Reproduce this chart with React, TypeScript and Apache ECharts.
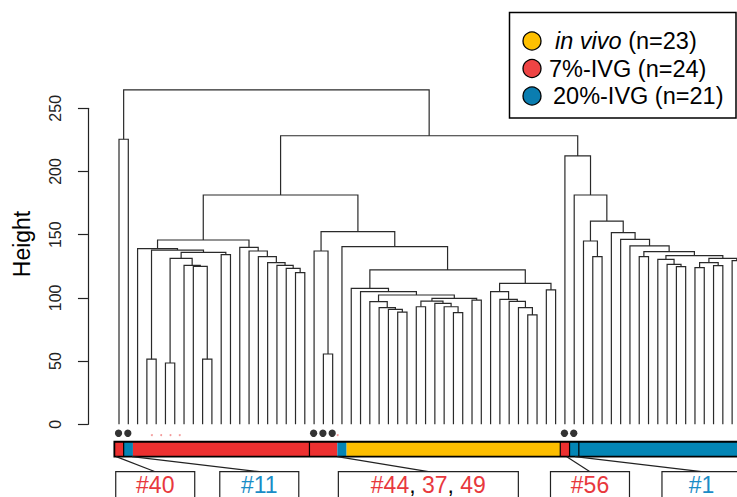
import React, { useEffect, useRef } from "react";
import * as echarts from "echarts";

// ---------- DATA ----------
// Leaf groups in dendrogram order, run-length encoded: [group, count]
const groupRuns: [string, number][] = [
  ["ivg7", 1], ["ivg20", 1], ["ivg7", 22], ["ivg20", 1],
  ["vivo", 23], ["ivg7", 1], ["ivg20", 19],
];
// Merges: [id, childA, childB, height]; number = leaf position, string = earlier merge
const merges: [string, string | number, string | number, number][] = [
  ["p34", 3, 4, 51.5], ["p56", 5, 6, 48.5], ["p910", 9, 10, 51.5],
  ["F", 8, "p910", 125.0], ["E", 7, "F", 125.8], ["D", "p56", "E", 131.3],
  ["p1112", 11, 12, 134.3], ["C", "D", "p1112", 136.0], ["B", "p34", "C", 137.8],
  ["A", 2, "B", 139.0],
  ["p1920", 19, 20, 120.0], ["L", 18, "p1920", 123.4], ["K", 17, "L", 125.8],
  ["J", 16, "K", 127.9], ["I", 15, "J", 132.6], ["H", 14, "I", 137.1],
  ["G", 13, "H", 140.0], ["A2", "A", "G", 145.8],
  ["p2223", 22, 23, 55.6], ["N21", 21, "p2223", 137.1],
  ["p3031", 30, 31, 88.8], ["Z2", 29, "p3031", 91.0], ["Z", 28, "Z2", 92.3],
  ["X", 27, "Z", 97.0], ["p3233", 32, 33, 93.0], ["p3637", 36, 37, 88.3],
  ["N35", 35, "p3637", 93.0], ["N34", 34, "N35", 95.7], ["Y1", "p3233", "N34", 97.5],
  ["p3839", 38, 39, 98.3], ["Y", "Y1", "p3839", 99.7], ["W", "X", "Y", 102.3],
  ["V", 26, "W", 104.9], ["T", 25, "V", 107.6],
  ["p4445", 44, 45, 86.5], ["N43", 43, "p4445", 92.3], ["N42", 42, "N43", 97.3],
  ["N41", 41, "N42", 98.9], ["U1", 40, "N41", 104.9], ["U2", 46, 47, 106.3],
  ["U", "U1", "U2", 111.5], ["S", "T", "U", 122.1], ["R", 24, "S", 140.5],
  ["Q", "N21", "R", 152.4], ["M1", "A2", "Q", 181.4],
  ["p5152", 51, 52, 132.6], ["RC3", 50, "p5152", 145.0], ["p5657", 56, 57, 132.6],
  ["p6061", 60, 61, 124.7], ["N59", 59, "p6061", 126.6], ["RC10", 58, "N59", 130.5],
  ["p6263", 62, 63, 124.0], ["p6465", 64, 65, 125.5], ["N62", "p6263", "p6465", 127.9],
  ["p6667", 66, 67, 129.5], ["RC11", "N62", "p6667", 131.3], ["RC9", "RC10", "RC11", 133.4],
  ["RC7", "p5657", "RC9", 136.6], ["RC6", 55, "RC7", 141.1], ["RC5", 54, "RC6", 146.3],
  ["RC4", 53, "RC5", 151.6], ["RC2", "RC3", "RC4", 160.8], ["RC1", 49, "RC2", 181.4],
  ["RC", 48, "RC1", 212.3], ["TR", "M1", "RC", 228.3],
  ["p01", 0, 1, 225.5], ["root", "p01", "TR", 264.5],
];
const dottedLeaves = [0, 1, 21, 22, 23, 48, 49];
const markedLeaves = [3, 4, 5, 6, 23];
const barBreaks = [0.5, 20.5, 47.5, 48.5, 49.5];
const labelTexts = ["#40", "#11", "#44, 37, 49", "#56", "#1"];
const labelGroups = ["ivg7", "ivg20", "ivg7", "ivg7", "ivg20"];
const labelAnchors = [-0.3, 1.4, 23.5, 48.2, 49.1];
const legendLabels = ["{i|in vivo} (n=23)", "7%-IVG (n=24)", "20%-IVG (n=21)"];
const legendGroups = ["vivo", "ivg7", "ivg20"];
const yTicks = { min: 0, max: 250, step: 50 };

// ---------- STYLE / LAYOUT ----------
const FONT = "'Liberation Sans', Arial, Helvetica, sans-serif";
const barColors: Record<string, string> = { vivo: "#FDBE00", ivg7: "#EC3030", ivg20: "#0385B5" };
const legendColors: Record<string, string> = { vivo: "#FFC000", ivg7: "#EE4444", ivg20: "#0A7DB0" };
const textColors: Record<string, string> = { ivg7: "#E8383D", ivg20: "#1A8CC6" };
const labelBoxCenters = [3.9, 15.1, 33.3, 50.7, 62.7];
const labelBoxWidths = [79, 79, 180, 79, 79];

export default function App() {
  const ref = useRef<HTMLDivElement>(null);
  useEffect(() => {
    if (!ref.current) return;
    const chart = echarts.init(ref.current, undefined, { renderer: "svg" });

    // expand runs into per-run [start, end, group]
    const runs: [number, number, string][] = [];
    let cursor = 0;
    groupRuns.forEach(([g, n]) => { runs.push([cursor, cursor + n - 1, g]); cursor += n; });
    const nLeaves = cursor;

    const pos: Record<string, { x: number; h: number }> = {};
    const segs = merges.map(([id, a, b, h]) => {
      const ca = typeof a === "number" ? { x: a, h: 0 } : pos[a];
      const cb = typeof b === "number" ? { x: b, h: 0 } : pos[b];
      pos[id] = { x: (ca.x + cb.x) / 2, h };
      return [ca.x, ca.h, cb.x, cb.h, h];
    });

    const BAR_TOP = -13.8, BAR_BOT = -25.6, DOT_H = -7.1, MARK_H = -8.5;
    const BOX_TOP = -37.5, BOX_BOT = -75, TEXT_H = -48.3;

    const option: any = {
      animation: false,
      grid: { left: 114.36, top: 108.3, width: 631.7, height: 316 },
      xAxis: { type: "value", min: -0.5, max: nLeaves - 0.5, show: false },
      yAxis: {
        type: "value", min: yTicks.min, max: yTicks.max, interval: yTicks.step, offset: 26.4,
        axisLine: { show: true, onZero: false, lineStyle: { color: "#222", width: 1.2 } },
        axisTick: { show: true, length: 10, lineStyle: { color: "#222", width: 1.2 } },
        axisLabel: { rotate: 90, margin: 24, fontSize: 16, color: "#222", fontFamily: FONT },
        splitLine: { show: false },
      },
      series: [
        {
          type: "custom", name: "dendrogram", clip: false, data: segs,
          encode: { x: [0, 2], y: [1, 3, 4] },
          renderItem: (_p: any, api: any) => {
            const xa = api.value(0), ha = api.value(1), xb = api.value(2), hb = api.value(3), h = api.value(4);
            return {
              type: "polyline",
              shape: { points: [api.coord([xa, ha]), api.coord([xa, h]), api.coord([xb, h]), api.coord([xb, hb])] },
              style: { stroke: "#2a2a2a", lineWidth: 1.2, fill: "none" },
            };
          },
        },
        {
          type: "custom", name: "bar", clip: false,
          data: runs.map(([s, e], i) => [s, e, i]),
          renderItem: (_p: any, api: any) => {
            const s = api.value(0), e = api.value(1), k = api.value(2);
            const p0 = api.coord([s - 0.5, BAR_TOP]);
            const p1 = api.coord([e + 0.5, BAR_BOT]);
            return {
              type: "rect",
              shape: { x: p0[0], y: p0[1], width: p1[0] - p0[0], height: p1[1] - p0[1] },
              style: { fill: barColors[runs[k][2]], stroke: "none" },
            };
          },
        },
        {
          type: "custom", name: "barFrame", clip: false, data: [[0]],
          renderItem: (_p: any, api: any) => {
            const p0 = api.coord([-0.5, BAR_TOP]);
            const p1 = api.coord([nLeaves - 0.5, BAR_BOT]);
            const children: any[] = barBreaks.map((b) => {
              const q0 = api.coord([b, BAR_TOP]);
              const q1 = api.coord([b, BAR_BOT]);
              return { type: "line", shape: { x1: q0[0], y1: q0[1], x2: q1[0], y2: q1[1] }, style: { stroke: "#000", lineWidth: 1.2 } };
            });
            children.push({
              type: "rect",
              shape: { x: p0[0], y: p0[1], width: p1[0] - p0[0], height: p1[1] - p0[1] },
              style: { fill: "none", stroke: "#000", lineWidth: 1.8 },
            });
            return { type: "group", children };
          },
        },
        {
          type: "scatter", name: "outliers", clip: false, symbolSize: 7.3,
          itemStyle: { color: "#000" },
          data: dottedLeaves.map((i) => [i - 0.05, DOT_H]),
        },
        {
          type: "scatter", name: "marks", clip: false, symbolSize: 2,
          itemStyle: { color: "#F08080" },
          data: markedLeaves.map((i) => [i + 0.54, MARK_H]),
        },
        {
          type: "custom", name: "labels", clip: false,
          data: labelTexts.map((_t, i) => [i]),
          renderItem: (_p: any, api: any) => {
            const k = api.value(0);
            const a = api.coord([labelAnchors[k], BAR_BOT]);
            const c = api.coord([labelBoxCenters[k], BOX_TOP]);
            const b = api.coord([labelBoxCenters[k], BOX_BOT]);
            const t = api.coord([labelBoxCenters[k], TEXT_H]);
            const w = labelBoxWidths[k];
            const col = textColors[labelGroups[k]];
            const txt = labelTexts[k];
            const rich = txt.split(", ").map((s) => `{c|${s}}`).join("{k|, }");
            return {
              type: "group",
              children: [
                { type: "line", shape: { x1: a[0], y1: a[1], x2: c[0], y2: c[1] }, style: { stroke: "#222", lineWidth: 1.2 } },
                { type: "rect", shape: { x: c[0] - w / 2, y: c[1], width: w, height: b[1] - c[1] }, style: { fill: "#fff", stroke: "#222", lineWidth: 1.2 } },
                {
                  type: "text",
                  style: {
                    x: t[0], y: t[1], text: rich, align: "center", verticalAlign: "middle",
                    fontFamily: FONT, fontSize: 23,
                    rich: {
                      c: { fill: col, fontSize: 23, fontFamily: FONT },
                      k: { fill: "#000", fontSize: 23, fontFamily: FONT },
                    },
                  },
                },
              ],
            };
          },
        },
      ],
      graphic: [
        {
          type: "text", x: 22, y: 244, rotation: Math.PI / 2,
          style: { text: "Height", align: "center", verticalAlign: "middle", fontFamily: FONT, fontSize: 23, fill: "#000" },
        },
        {
          type: "group",
          children: [
            { type: "rect", shape: { x: 509.5, y: 12.5, width: 226.5, height: 105.5 }, style: { fill: "#fff", stroke: "#000", lineWidth: 1.5 } },
            ...legendGroups.map((g, i) => ({
              type: "circle", shape: { cx: 532, cy: 41 + i * 27.5, r: 9 },
              style: { fill: legendColors[g], stroke: "#000", lineWidth: 1.3 },
            })),
            ...legendLabels.map((s, i) => ({
              type: "text",
              style: {
                x: [555, 549, 553][i], y: 41 + i * 27.5, text: s, verticalAlign: "middle", align: "left",
                fontFamily: FONT, fontSize: 23.5, fill: "#000",
                rich: { i: { fontStyle: "italic", fontFamily: FONT, fontSize: 23.5, fill: "#000" } },
              },
            })),
          ],
        },
      ],
    };
    chart.setOption(option);
    return () => chart.dispose();
  }, []);

  return (
    <div style={{ position: "fixed", left: 0, top: 0, width: 737, height: 497, overflow: "hidden", background: "#fff" }}>
      <div ref={ref} style={{ width: 800, height: 497 }} />
    </div>
  );
}
